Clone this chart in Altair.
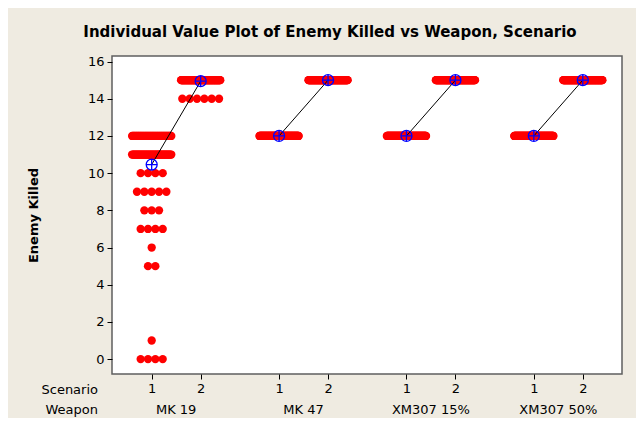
import altair as alt
import pandas as pd

# ---------------- data ----------------
weapons = ["MK 19", "MK 47", "XM307 15%", "XM307 50%"]
scenarios = [1, 2]
scenario_labels = ["1", "2"]
yticks = [0, 2, 4, 6, 8, 10, 12, 14, 16]

# observed values and how many runs gave each value
mk19_s1_values = [0, 1, 5, 6, 7, 8, 9, 10, 11, 12]
mk19_s1_counts = [4, 1, 2, 1, 4, 3, 5, 4, 46, 47]
mk19_s2_values = [14, 15]
mk19_s2_counts = [6, 111]
mk47_s1_values = [12]
mk47_s1_counts = [117]
mk47_s2_values = [15]
mk47_s2_counts = [117]
xm15_s1_values = [12]
xm15_s1_counts = [117]
xm15_s2_values = [15]
xm15_s2_counts = [117]
xm50_s1_values = [12]
xm50_s1_counts = [117]
xm50_s2_values = [15]
xm50_s2_counts = [117]

groups = {
    ("MK 19", 1): (mk19_s1_values, mk19_s1_counts),
    ("MK 19", 2): (mk19_s2_values, mk19_s2_counts),
    ("MK 47", 1): (mk47_s1_values, mk47_s1_counts),
    ("MK 47", 2): (mk47_s2_values, mk47_s2_counts),
    ("XM307 15%", 1): (xm15_s1_values, xm15_s1_counts),
    ("XM307 15%", 2): (xm15_s2_values, xm15_s2_counts),
    ("XM307 50%", 1): (xm50_s1_values, xm50_s1_counts),
    ("XM307 50%", 2): (xm50_s2_values, xm50_s2_counts),
}

GROUP_STEP = 2.6   # spacing between weapon groups on the x scale
DOT_STEP = 0.15    # horizontal spread between coincident points
MAX_SPAN = 0.8

rows = []
for (w, s), (vals, cnts) in groups.items():
    g = weapons.index(w)
    xc = g * GROUP_STEP + s
    for v, n in zip(vals, cnts):
        span = min((n - 1) * DOT_STEP, MAX_SPAN)
        for i in range(n):
            off = 0.0 if n == 1 else -span / 2 + span * i / (n - 1)
            rows.append({"weapon": w, "scenario": s, "xc": xc,
                         "x": xc + off, "value": v})
df = pd.DataFrame(rows)

names_df = pd.DataFrame({
    "weapon": weapons,
    "xmid": [g * GROUP_STEP + 1.5 for g in range(len(weapons))],
})
rowlab_df = pd.DataFrame({"lab": ["Scenario", "Weapon"], "ypix": [334, 354]})

tick_positions = [g * GROUP_STEP + s for g in range(len(weapons)) for s in scenarios]

W, H = 510, 318
FONT = "DejaVu Sans"

xscale = alt.Scale(domain=[0.19, 10.6], nice=False, zero=False)
yscale = alt.Scale(domain=[-0.8, 16.3], nice=False, zero=False)

label_expr = ("round(datum.value*10) % 26 == 10 ? '" + scenario_labels[0]
              + "' : '" + scenario_labels[1] + "'")

xaxis = alt.Axis(values=tick_positions, title=None, grid=False, domain=False,
                 tickSize=5, tickColor="black", labelPadding=3,
                 labelFont=FONT, labelFontSize=13, labelColor="black",
                 labelOverlap=False, labelFlush=False,
                 labelExpr=label_expr)
yaxis = alt.Axis(values=yticks, title="Enemy Killed", grid=False, domain=False,
                 tickSize=5, tickColor="black", labelPadding=3,
                 labelFont=FONT, labelFontSize=13, labelColor="black",
                 labelOverlap=False, labelFlush=False,
                 titleFont=FONT, titleFontSize=13, titleFontWeight="bold",
                 titleColor="black", titleX=-79, titleY=H / 2,
                 titleAngle=-90, titleAlign="center", titleBaseline="middle")

base = alt.Chart(df)

points = base.mark_circle(size=69, color="#FF0000", opacity=1).encode(
    x=alt.X("x:Q", scale=xscale, axis=xaxis),
    y=alt.Y("value:Q", scale=yscale, axis=yaxis),
)

means = base.transform_aggregate(
    mean_value="mean(value)", groupby=["weapon", "scenario", "xc"]
)

line = means.mark_line(color="black", strokeWidth=1).encode(
    x=alt.X("xc:Q", scale=xscale, axis=xaxis),
    y=alt.Y("mean_value:Q", scale=yscale, axis=yaxis),
    detail="weapon:N",
    order="scenario:Q",
)

SYMBOL = "M 1 0 A 1 1 0 1 1 -1 0 A 1 1 0 1 1 1 0 M -1 0 L 1 0 M 0 -1 L 0 1"
mean_pts = means.mark_point(shape=SYMBOL, filled=False, color="#0000FF",
                            size=121, strokeWidth=1.3, opacity=1).encode(
    x=alt.X("xc:Q", scale=xscale, axis=xaxis),
    y=alt.Y("mean_value:Q", scale=yscale, axis=yaxis),
)

weapon_names = alt.Chart(names_df).mark_text(
    font=FONT, fontSize=13, color="black", align="center", baseline="middle"
).encode(
    x=alt.X("xmid:Q", scale=xscale, axis=xaxis),
    y=alt.value(354),
    text="weapon:N",
)

row_labels = alt.Chart(rowlab_df).mark_text(
    font=FONT, fontSize=13, color="black", align="right", baseline="middle"
).encode(
    x=alt.value(-14),
    y=alt.Y("ypix:Q", scale=None),
    text="lab:N",
)

chart = alt.layer(points, line, mean_pts, weapon_names, row_labels).properties(
    width=W, height=H,
    title=alt.TitleParams(
        text="Individual Value Plot of Enemy Killed vs Weapon, Scenario",
        font=FONT, fontSize=15, fontWeight="bold", color="black",
        anchor="middle", dx=-37, offset=16,
    ),
    autosize=alt.AutoSizeParams(type="none"),
    padding={"left": 104, "top": 48, "right": 14, "bottom": 44},
    background="#EFEBE1",
).configure_view(
    fill="white", stroke="#5f5f5f", strokeWidth=1.5
)

chart.save("out.html", embed_options={"renderer": "svg", "actions": False})
